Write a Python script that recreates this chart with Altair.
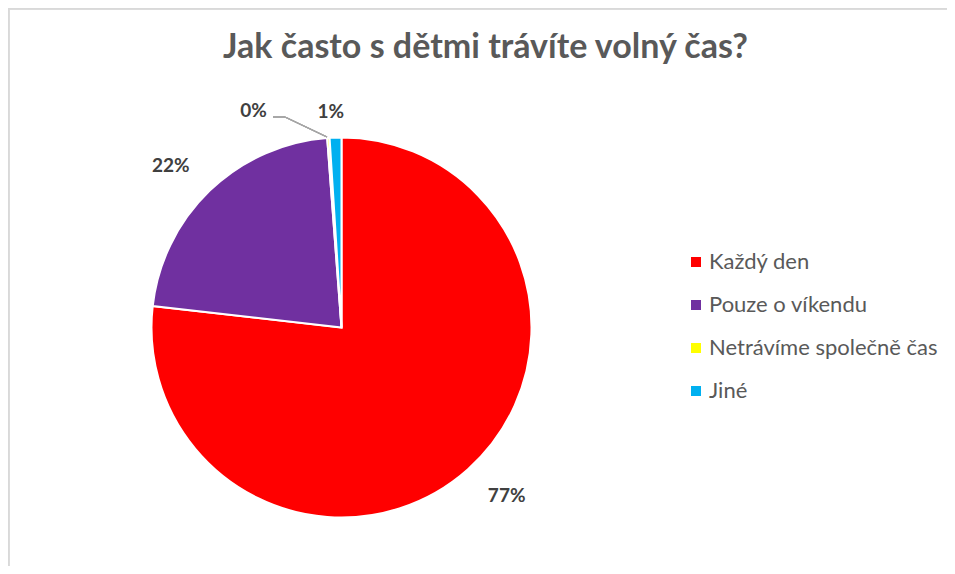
import altair as alt
import pandas as pd

categories = ["Každý den", "Pouze o víkendu", "Netrávíme společně čas", "Jiné"]
values = [76.8, 22.0, 0.2, 1.0]
colors = ["#FF0000", "#7030A0", "#FFFF00", "#00B0F0"]
title_text = "Jak často s dětmi trávíte volný čas?"

df = pd.DataFrame({"category": categories, "value": values, "idx": list(range(len(categories)))})
total = sum(values)

CX, CY, R = 333.5, 319.5, 190
FONT = "Lato"
GRAY = "#595959"
LABEL = "#404040"

theta_scale = alt.Scale(domain=[0, total])

base = alt.Chart(df)

arcs = base.mark_arc(outerRadius=R, stroke="white", strokeWidth=2).encode(
    theta=alt.Theta("value:Q", stack=True, scale=theta_scale),
    color=alt.Color(
        "category:N",
        sort=categories,
        scale=alt.Scale(domain=categories, range=colors),
        legend=alt.Legend(
            title=None,
            orient="none",
            legendX=677,
            legendY=243,
            symbolType="square",
            symbolSize=100,
            symbolStrokeWidth=0,
            labelFont=FONT,
            labelFontSize=22,
            labelColor=GRAY,
            labelOffset=2,
            labelLimit=400,
            rowPadding=21,
        ),
    ),
    order=alt.Order("idx:Q"),
    x=alt.value(CX),
    y=alt.value(CY),
)

lab_base = base.transform_window(
    cum="sum(value)", sort=[alt.SortField("idx")], frame=[None, 0]
).transform_calculate(mid="datum.cum - datum.value / 2", pct="datum.value / 100")


def label_layer(cat, radius, dx, dy):
    return lab_base.transform_filter(alt.datum.category == cat).mark_text(
        radius=radius, dx=dx, dy=dy, font=FONT, fontSize=19, fontWeight="bold",
        color=LABEL, baseline="middle", align="center"
    ).encode(
        theta=alt.Theta("mid:Q", scale=theta_scale),
        text=alt.Text("pct:Q", format=".0%"),
        x=alt.value(CX),
        y=alt.value(CY),
    )


labels = [
    label_layer(categories[0], 236, 8, -8),
    label_layer(categories[1], 236, -7, 8),
    label_layer(categories[2], 216, -73, -1),
    label_layer(categories[3], 216, -4, 0),
]

# leader line for the 0% label
lead1 = base.mark_rule(color="#A6A6A6", strokeWidth=1.3).encode(
    x=alt.value(265), x2=alt.value(277), y=alt.value(109), y2=alt.value(109)
)
lead2 = base.mark_rule(color="#A6A6A6", strokeWidth=1.3).encode(
    x=alt.value(277), x2=alt.value(319), y=alt.value(109), y2=alt.value(129)
)

# chart border (left and top edges visible)
border_left = base.mark_rule(color="#D9D9D9", strokeWidth=1.5).encode(
    x=alt.value(0.75), x2=alt.value(0.75), y=alt.value(0), y2=alt.value(558)
)
border_top = base.mark_rule(color="#D9D9D9", strokeWidth=1.5).encode(
    x=alt.value(0), x2=alt.value(939), y=alt.value(0.75), y2=alt.value(0.75)
)

chart = alt.layer(border_left, border_top, arcs, lead1, lead2, *labels).properties(
    width=939,
    height=558,
    autosize=alt.AutoSizeParams(type="none"),
    padding=0,
    title=alt.TitleParams(
        title_text,
        font=FONT,
        fontSize=34,
        fontWeight="bold",
        color=GRAY,
        anchor="middle",
        offset=-85,
        dx=8,
        baseline="alphabetic",
    ),
).configure_view(stroke=None)

chart.save("out.html", embed_options={"renderer": "svg", "actions": False})
